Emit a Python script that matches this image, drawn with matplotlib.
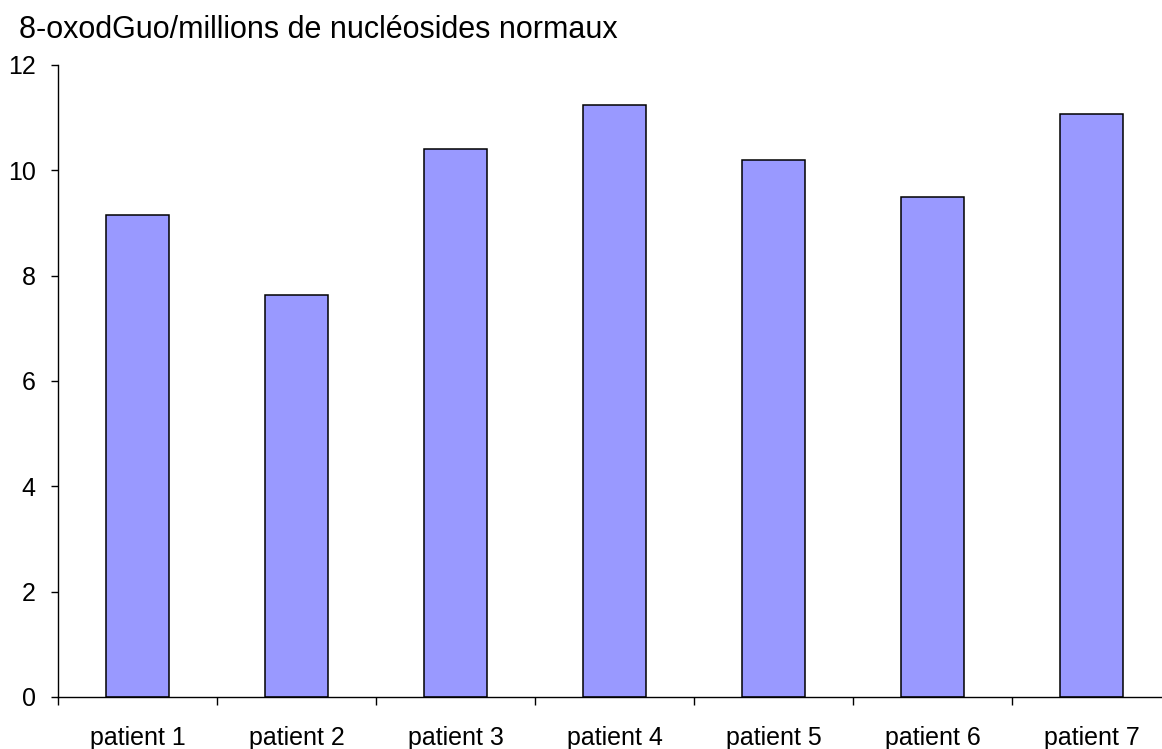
import numpy as np
import matplotlib
matplotlib.use("Agg")
import matplotlib.pyplot as plt

patients = ["patient 1", "patient 2", "patient 3", "patient 4",
            "patient 5", "patient 6", "patient 7"]
oxodguo = [9.15, 7.64, 10.40, 11.25, 10.19, 9.50, 11.07]

plt.rcParams['font.family'] = ['Liberation Sans', 'DejaVu Sans']

fig = plt.figure(figsize=(11.62, 7.49), dpi=100)
ax = fig.add_axes([58 / 1162, 52 / 749, 1113 / 1162, 632 / 749])

x = np.arange(len(patients))
ax.bar(x, oxodguo, width=0.40, color="#9999FF", edgecolor="black", linewidth=1.1)

ax.set_xlim(-0.5, len(patients) - 0.5)
ax.set_ylim(0, 12)
ax.set_yticks(range(0, 13, 2))

# category boundaries get the tick marks, labels sit under the bars
ax.set_xticks(np.arange(-0.5, len(patients), 1.0))
ax.set_xticklabels([])
ax.set_xticks(x, minor=True)
ax.set_xticklabels(patients, minor=True)
ax.tick_params(axis='x', which='major', direction='out', length=6, width=1.0)
ax.tick_params(axis='x', which='minor', length=0, pad=21, labelsize=18)
ax.tick_params(axis='y', direction='out', length=5, width=1.0, pad=11, labelsize=18)

for side in ("top", "right"):
    ax.spines[side].set_visible(False)
for side in ("left", "bottom"):
    ax.spines[side].set_linewidth(1.0)

fig.text(19 / 1162, 1 - 38 / 749, "8-oxodGuo/millions de nucléosides normaux",
         fontsize=22, ha="left", va="baseline")

fig.savefig("out.png", dpi=100)
